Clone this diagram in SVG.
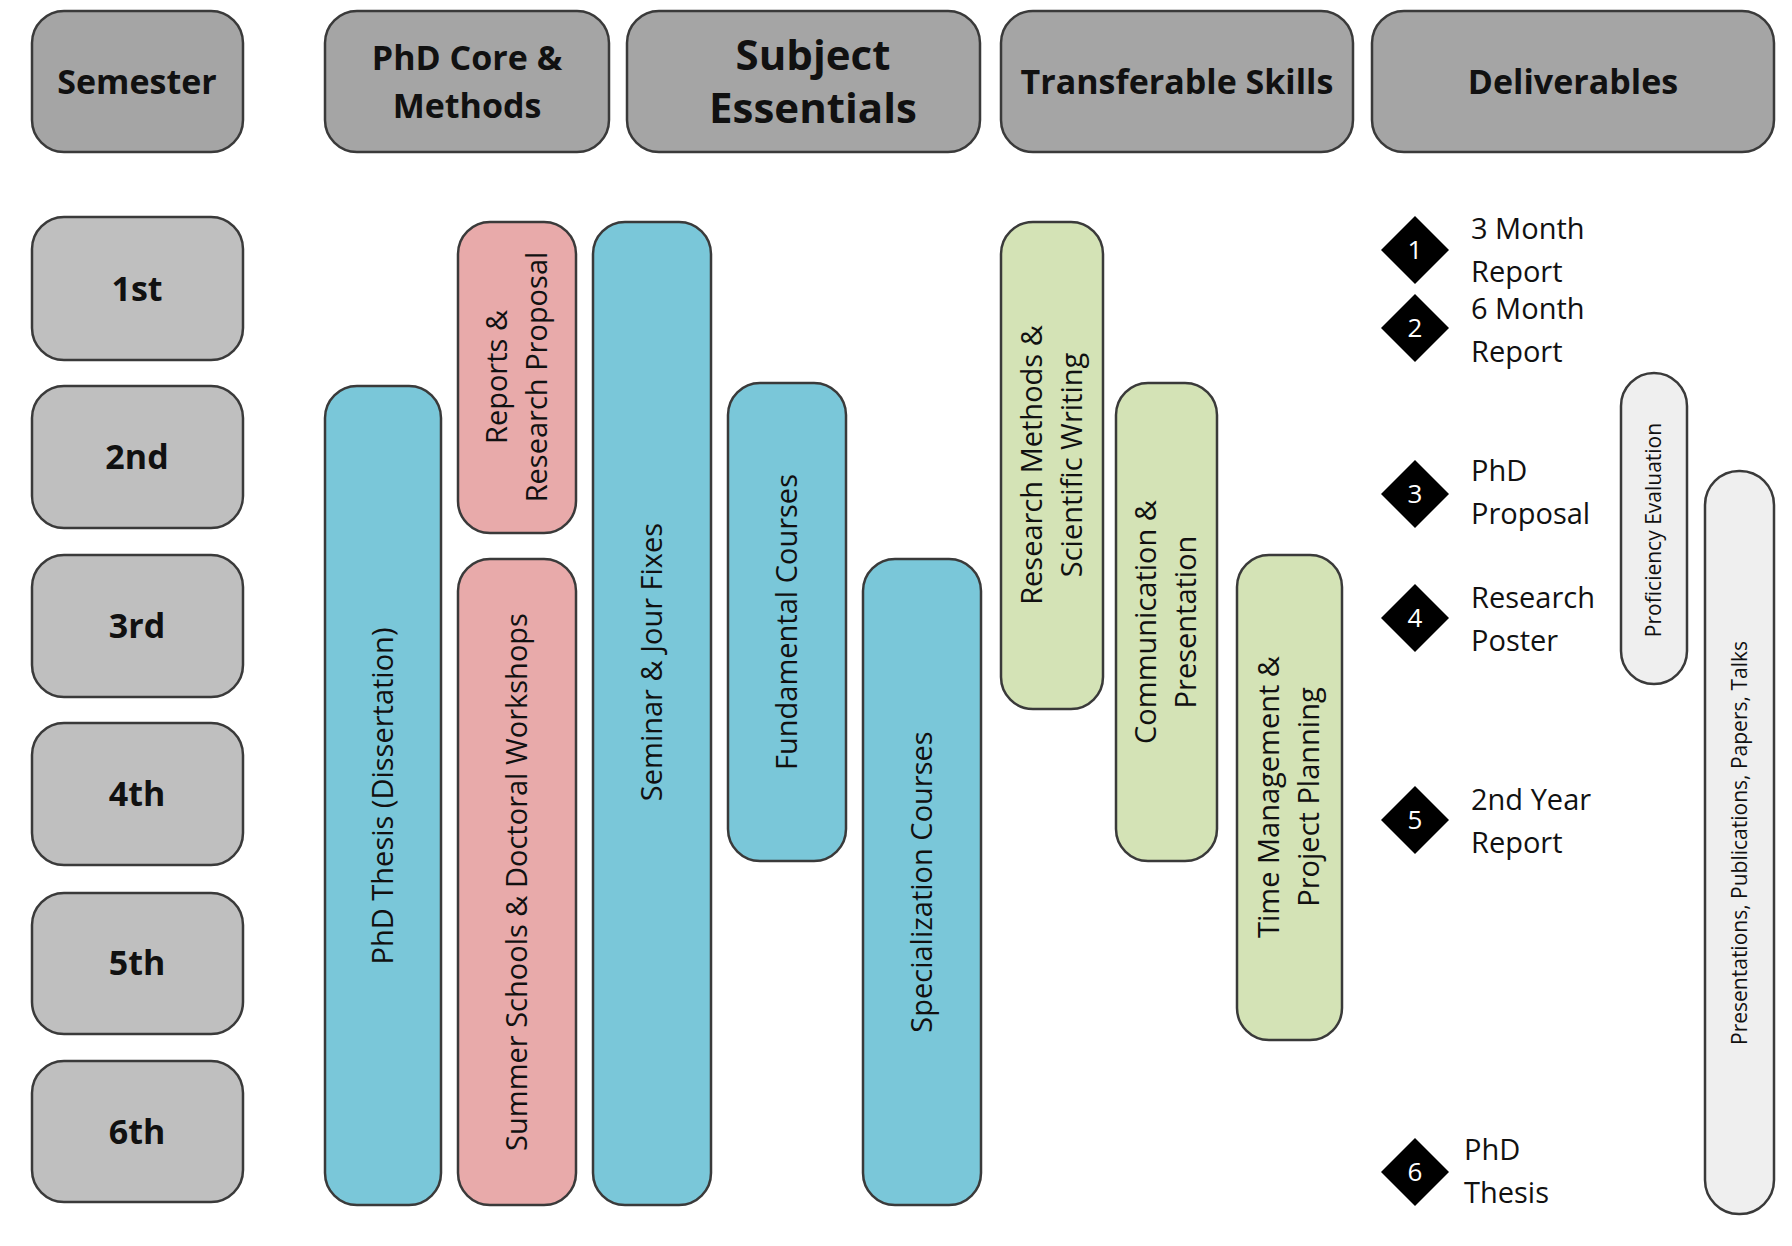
<svg xmlns="http://www.w3.org/2000/svg" width="1792" height="1246" viewBox="0 0 1792 1246">
<style>
.h{fill:#a5a5a5;stroke:#3a3a3a;stroke-width:2.5}
.s{fill:#bfbfbf;stroke:#3a3a3a;stroke-width:2.5}
.b{fill:#7ac7d9;stroke:#3a3a3a;stroke-width:2.5}
.p{fill:#e8aaaa;stroke:#3a3a3a;stroke-width:2.5}
.g{fill:#d4e3b6;stroke:#3a3a3a;stroke-width:2.5}
.l{fill:#efefef;stroke:#3a3a3a;stroke-width:2.5}
text{font-family:"Open Sans","Noto Sans",sans-serif;fill:#111}
.ht{font-weight:bold;font-size:34px;text-anchor:middle}
.bt{font-size:29px;text-anchor:middle}
.dt{font-size:29px}
.dn{font-size:26px;fill:#fff;text-anchor:middle}
</style>
<g id="headers">
<rect class="h" x="32" y="11" width="211" height="141" rx="32"/><text class="ht" x="137" y="94">Semester</text>
<rect class="h" x="325" y="11" width="284" height="141" rx="32"/><text class="ht" x="467" y="70">PhD Core &amp;</text><text class="ht" x="467" y="118">Methods</text>
<rect class="h" x="627" y="11" width="353" height="141" rx="32"/><text class="ht" x="813" y="70" style="font-size:42px">Subject</text><text class="ht" x="813" y="123" style="font-size:42px">Essentials</text>
<rect class="h" x="1001" y="11" width="352" height="141" rx="32"/><text class="ht" x="1177" y="94">Transferable Skills</text>
<rect class="h" x="1372" y="11" width="402" height="141" rx="32"/><text class="ht" x="1573" y="94">Deliverables</text>
</g>
<g id="semesters">
<rect class="s" x="32" y="217" width="211" height="143" rx="32"/><text class="ht" x="137" y="301">1st</text>
<rect class="s" x="32" y="386" width="211" height="142" rx="32"/><text class="ht" x="137" y="469">2nd</text>
<rect class="s" x="32" y="555" width="211" height="142" rx="32"/><text class="ht" x="137" y="638">3rd</text>
<rect class="s" x="32" y="723" width="211" height="142" rx="32"/><text class="ht" x="137" y="806">4th</text>
<rect class="s" x="32" y="893" width="211" height="141" rx="32"/><text class="ht" x="137" y="975">5th</text>
<rect class="s" x="32" y="1061" width="211" height="141" rx="32"/><text class="ht" x="137" y="1144">6th</text>
</g>
<g id="bars">
<rect class="b" x="325" y="386" width="116" height="819" rx="32"/><text class="bt" transform="translate(393,796) rotate(-90)">PhD Thesis (Dissertation)</text>
<rect class="p" x="458" y="222" width="118" height="311" rx="32"/><text class="bt" transform="translate(507,377) rotate(-90)">Reports &amp;</text><text class="bt" transform="translate(547,377) rotate(-90)">Research Proposal</text>
<rect class="p" x="458" y="559" width="118" height="646" rx="32"/><text class="bt" transform="translate(527,882) rotate(-90)">Summer Schools &amp; Doctoral Workshops</text>
<rect class="b" x="593" y="222" width="118" height="983" rx="32"/><text class="bt" transform="translate(662,662) rotate(-90)">Seminar &amp; Jour Fixes</text>
<rect class="b" x="728" y="383" width="118" height="478" rx="32"/><text class="bt" transform="translate(797,622) rotate(-90)">Fundamental Courses</text>
<rect class="b" x="863" y="559" width="118" height="646" rx="32"/><text class="bt" transform="translate(932,882) rotate(-90)">Specialization Courses</text>
<rect class="g" x="1001" y="222" width="102" height="487" rx="32"/><text class="bt" transform="translate(1042,465) rotate(-90)">Research Methods &amp;</text><text class="bt" transform="translate(1082,465) rotate(-90)">Scientific Writing</text>
<rect class="g" x="1116" y="383" width="101" height="478" rx="32"/><text class="bt" transform="translate(1156,622) rotate(-90)">Communication &amp;</text><text class="bt" transform="translate(1196,622) rotate(-90)">Presentation</text>
<rect class="g" x="1237" y="555" width="105" height="485" rx="32"/><text class="bt" transform="translate(1279,797) rotate(-90)">Time Management &amp;</text><text class="bt" transform="translate(1319,797) rotate(-90)">Project Planning</text>
<rect class="l" x="1621" y="373" width="66" height="311" rx="33"/><text class="bt" style="font-size:21px" transform="translate(1661,530) rotate(-90)">Proficiency Evaluation</text>
<rect class="l" x="1705" y="471" width="69" height="743" rx="34"/><text class="bt" style="font-size:21px" transform="translate(1747,843) rotate(-90)">Presentations, Publications, Papers, Talks</text>
</g>
<g id="deliverables">
<path d="M1415 216 L1449 250 L1415 284 L1381 250Z"/><text class="dn" x="1415" y="259">1</text><text class="dt" x="1471" y="239">3 Month</text><text class="dt" x="1471" y="282">Report</text>
<path d="M1415 294 L1449 328 L1415 362 L1381 328Z"/><text class="dn" x="1415" y="337">2</text><text class="dt" x="1471" y="319">6 Month</text><text class="dt" x="1471" y="362">Report</text>
<path d="M1415 460 L1449 494 L1415 528 L1381 494Z"/><text class="dn" x="1415" y="503">3</text><text class="dt" x="1471" y="481">PhD</text><text class="dt" x="1471" y="524">Proposal</text>
<path d="M1415 584 L1449 618 L1415 652 L1381 618Z"/><text class="dn" x="1415" y="627">4</text><text class="dt" x="1471" y="608">Research</text><text class="dt" x="1471" y="651">Poster</text>
<path d="M1415 786 L1449 820 L1415 854 L1381 820Z"/><text class="dn" x="1415" y="829">5</text><text class="dt" x="1471" y="810">2nd Year</text><text class="dt" x="1471" y="853">Report</text>
<path d="M1415 1138 L1449 1172 L1415 1206 L1381 1172Z"/><text class="dn" x="1415" y="1181">6</text><text class="dt" x="1464" y="1160">PhD</text><text class="dt" x="1464" y="1203">Thesis</text>
</g>
<g id="connectors"/>
</svg>
